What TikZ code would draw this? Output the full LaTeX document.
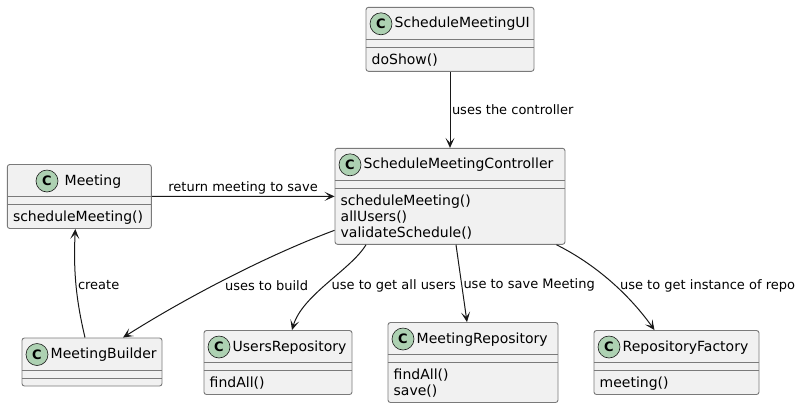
\documentclass[tikz,border=0pt]{standalone}
\usepackage{fontspec}
\setmainfont{DejaVu Sans}
\usetikzlibrary{arrows.meta}

\definecolor{boxfill}{HTML}{F1F1F1}
\definecolor{boxline}{HTML}{7A7A7A}
\definecolor{arrline}{HTML}{181818}
\definecolor{cgreen}{HTML}{ADD1B2}

\tikzset{
  umlclass/.style={draw=boxline, fill=boxfill, line width=0.9pt, rounded corners=2.5pt, inner sep=0pt},
  sepl/.style={draw=boxline, line width=0.9pt},
  cmark/.style={circle, draw=arrline, fill=cgreen, line width=0.6pt, minimum size=22pt, inner sep=0pt,
    font=\fontsize{13}{13}\selectfont\bfseries},
  ctitle/.style={anchor=base west, inner sep=0pt, font=\fontsize{14}{16}\selectfont},
  cmeth/.style={anchor=base west, inner sep=0pt, font=\fontsize{14}{16}\selectfont},
  assoc/.style={draw=arrline, line width=1pt, -{Stealth[length=10pt, width=9pt, inset=5pt]}},
  lbl/.style={font=\fontsize{13}{15}\selectfont, inner sep=1.5pt},
}

\begin{document}
\begin{tikzpicture}[x=1pt, y=-1pt]
  \useasboundingbox[fill=white] (0,0) rectangle (801,408);

  % ScheduleMeetingUI
  \node[umlclass, minimum width=168pt, minimum height=64pt] (ui) at (450,39.3) {};
  \node[cmark] (uic) at (381,23.8) {C};
  \node[ctitle] (uit) at (394.5,27.8) {ScheduleMeetingUI};
  \draw[sepl] (ui.west |- 0,39.3) -- (ui.east |- 0,39.3);
  \draw[sepl] (ui.west |- 0,47.3) -- (ui.east |- 0,47.3);
  \node[cmeth] (uim1) at (371.5,64.3) {doShow()};

  % ScheduleMeetingController
  \node[umlclass, minimum width=230pt, minimum height=96pt] (ctrl) at (450,196.3) {};
  \node[cmark] (ctrlc) at (350,164.8) {C};
  \node[ctitle] (ctrlt) at (363.5,168.8) {ScheduleMeetingController};
  \draw[sepl] (ctrl.west |- 0,180.3) -- (ctrl.east |- 0,180.3);
  \draw[sepl] (ctrl.west |- 0,188.3) -- (ctrl.east |- 0,188.3);
  \node[cmeth] (ctrlm1) at (340.5,205.3) {scheduleMeeting()};
  \node[cmeth] (ctrlm2) at (340.5,221.3) {allUsers()};
  \node[cmeth] (ctrlm3) at (340.5,237.3) {validateSchedule()};

  % Meeting
  \node[umlclass, minimum width=144pt, minimum height=64pt] (meet) at (79.3,196.5) {};
  \node[cmark] (meetc) at (47,181) {C};
  \node[ctitle] (meett) at (64.5,185) {Meeting};
  \draw[sepl] (meet.west |- 0,196.5) -- (meet.east |- 0,196.5);
  \draw[sepl] (meet.west |- 0,204.5) -- (meet.east |- 0,204.5);
  \node[cmeth] (meetm1) at (12.8,221.5) {scheduleMeeting()};

  % MeetingBuilder
  \node[umlclass, minimum width=140pt, minimum height=48pt] (builder) at (92,362) {};
  \node[cmark] (builderc) at (37,354.5) {C};
  \node[ctitle] (buildert) at (50.5,358.5) {MeetingBuilder};
  \draw[sepl] (builder.west |- 0,370) -- (builder.east |- 0,370);
  \draw[sepl] (builder.west |- 0,378) -- (builder.east |- 0,378);

  % UsersRepository
  \node[umlclass, minimum width=148pt, minimum height=64pt] (users) at (278,362.5) {};
  \node[cmark] (usersc) at (219,347) {C};
  \node[ctitle] (userst) at (232.5,351) {UsersRepository};
  \draw[sepl] (users.west |- 0,362.5) -- (users.east |- 0,362.5);
  \draw[sepl] (users.west |- 0,370.5) -- (users.east |- 0,370.5);
  \node[cmeth] (usersm1) at (209.5,387.5) {findAll()};

  % MeetingRepository
  \node[umlclass, minimum width=170pt, minimum height=80pt] (mrepo) at (473,362.5) {};
  \node[cmark] (mrepoc) at (403,339) {C};
  \node[ctitle] (mrepot) at (416.5,343) {MeetingRepository};
  \draw[sepl] (mrepo.west |- 0,354.5) -- (mrepo.east |- 0,354.5);
  \draw[sepl] (mrepo.west |- 0,362.5) -- (mrepo.east |- 0,362.5);
  \node[cmeth] (mrepom1) at (393.5,379.5) {findAll()};
  \node[cmeth] (mrepom2) at (393.5,395.5) {save()};

  % RepositoryFactory
  \node[umlclass, minimum width=165pt, minimum height=64pt] (factory) at (676.5,362.5) {};
  \node[cmark] (factoryc) at (609,347) {C};
  \node[ctitle] (factoryt) at (622.5,351) {RepositoryFactory};
  \draw[sepl] (factory.west |- 0,362.5) -- (factory.east |- 0,362.5);
  \draw[sepl] (factory.west |- 0,370.5) -- (factory.east |- 0,370.5);
  \node[cmeth] (factorym1) at (599.5,387.5) {meeting()};

  % associations
  \draw[assoc] (ui) -- (ctrl) node[lbl, pos=0.5, anchor=west] (lctrl) {uses the controller};
  \draw[assoc] (meet) -- (ctrl) node[lbl, midway, above] (lsave) {return meeting to save};
  \draw[assoc] ([xshift=-7pt]builder.north) .. controls +(-9,-38) and +(-2,42) .. ([xshift=-4pt]meet.south)
    node[lbl, pos=0.5, anchor=west] (lcreate) {create};
  \draw[assoc] ([yshift=-34pt]ctrl.west) .. controls +(-70,26) and +(60,-38) .. ([xshift=31pt]builder.north)
    node[lbl, pos=0.5, anchor=west, xshift=-2pt, yshift=-6pt] (lbuild) {uses to build};
  \draw[assoc] ([xshift=-84pt]ctrl.south) .. controls +(-15,25) and +(10,-35) .. ([xshift=14pt]users.north)
    node[lbl, pos=0.5, anchor=west, xshift=2.5pt, yshift=-2pt] (lusers) {use to get all users};
  \draw[assoc] ([xshift=6pt]ctrl.south) -- ([xshift=-6pt]mrepo.north)
    node[lbl, pos=0.5, anchor=west, yshift=-2pt] (lmrepo) {use to save Meeting};
  \draw[assoc] ([xshift=-9pt]ctrl.south east) .. controls +(40,20) and +(-25,-35) .. ([xshift=-22pt]factory.north)
    node[lbl, pos=0.5, anchor=west, xshift=7pt, yshift=-4pt] (lfactory) {use to get instance of repo};
\end{tikzpicture}
\end{document}
